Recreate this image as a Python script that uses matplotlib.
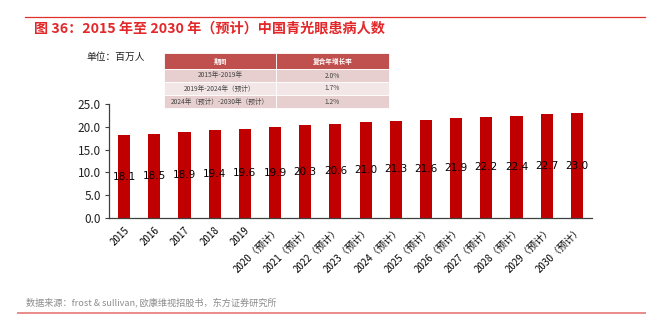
import matplotlib
matplotlib.use("Agg")
import matplotlib.pyplot as plt
from matplotlib.patches import Rectangle
from matplotlib.lines import Line2D

plt.rcParams['font.family'] = ['Noto Sans CJK SC', 'DejaVu Sans']

# data
years = ['2015', '2016', '2017', '2018', '2019',
         '2020（预计）', '2021（预计）', '2022（预计）', '2023（预计）', '2024（预计）',
         '2025（预计）', '2026（预计）', '2027（预计）', '2028（预计）', '2029（预计）',
         '2030（预计）']
patients = [18.1, 18.5, 18.9, 19.4, 19.6, 19.9, 20.3, 20.6, 21.0, 21.3,
            21.6, 21.9, 22.2, 22.4, 22.7, 23.0]

table_header = ['期间', '复合年增长率']
table_periods = ['2015年-2019年', '2019年-2024年（预计）', '2024年（预计）-2030年（预计）']
table_cagr = ['2.0%', '1.7%', '1.2%']

title = '图 36：2015 年至 2030 年（预计）中国青光眼患病人数'
source = '数据来源：frost & sullivan, 欧康维视招股书，东方证券研究所'

W, H = 656, 328
fig = plt.figure(figsize=(W / 100, H / 100), dpi=100)

def fx(px):
    return px / W

def fy(py):
    return 1 - py / H

# header / footer lines and texts
fig.add_artist(Line2D([fx(25), fx(645)], [fy(17), fy(17)], color='#e0302a', lw=0.9))
fig.add_artist(Line2D([fx(18), fx(645)], [fy(313), fy(313)], color='#e98a8a', lw=1.4))
fig.text(fx(34), fy(28), title, color='#e2282a', fontsize=10.2, va='center', ha='left',
         weight='bold')
fig.text(fx(26), fy(302), source, color='#8c8c8c', fontsize=6.6, va='center', ha='left')
fig.text(fx(86), fy(57), '单位：百万人', color='#222222', fontsize=7, va='center', ha='left')

# CAGR table
tx0, tx1, tmid = 164, 389, 276
row_edges = [53, 69, 82, 95, 108]
row_colors = ['#c0504d', '#e8cfcf', '#f3e6e6', '#e8cfcf']
cells = [table_header] + [[p, c] for p, c in zip(table_periods, table_cagr)]
for i, (left_txt, right_txt) in enumerate(cells):
    top, bot = row_edges[i], row_edges[i + 1]
    for x0, x1, txt in [(tx0, tmid, left_txt), (tmid, tx1, right_txt)]:
        fig.add_artist(Rectangle((fx(x0), fy(bot)), fx(x1) - fx(x0), fy(top) - fy(bot),
                                 facecolor=row_colors[i], edgecolor='white', lw=0.6))
        fig.text(fx((x0 + x1) / 2), fy((top + bot) / 2), txt,
                 color='white' if i == 0 else '#444444',
                 fontsize=4.8, ha='center', va='center',
                 weight='bold' if i == 0 else 'normal')

# bar chart
ax = fig.add_axes([fx(109), fy(218), fx(592) - fx(109), fy(104) - fy(218)])
x = range(len(years))
bars = ax.bar(x, patients, width=0.4, color='#c00000')
for xi, v in zip(x, patients):
    ax.text(xi, v / 2, '%.1f' % v, ha='center', va='center', fontsize=7.5,
            color='black', family='DejaVu Sans')

ax.set_xlim(-0.5, len(years) - 0.5)
ax.set_ylim(0, 25)
ax.set_yticks([0, 5, 10, 15, 20, 25])
ax.set_yticklabels(['%.1f' % t for t in [0, 5, 10, 15, 20, 25]], fontsize=8.5)
ax.set_xticks(list(x))
ax.set_xticklabels(years, fontsize=7, rotation=45, ha='right', rotation_mode='anchor')
ax.tick_params(axis='x', length=0, pad=5)
ax.tick_params(axis='y', length=3, width=0.8, color='#404040', pad=3, labelcolor='#222222')
for s in ['top', 'right']:
    ax.spines[s].set_visible(False)
for s in ['left', 'bottom']:
    ax.spines[s].set_color('#404040')
    ax.spines[s].set_linewidth(0.9)

fig.savefig('out.png', dpi=100)
